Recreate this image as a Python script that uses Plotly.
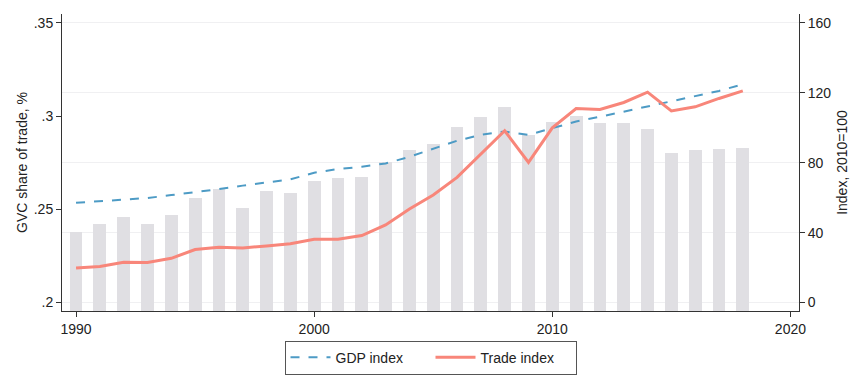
import plotly.graph_objects as go

years = list(range(1990, 2019))
gvc_share = [0.238, 0.242, 0.246, 0.242, 0.247, 0.256, 0.261, 0.2505, 0.260, 0.259,
             0.265, 0.2667, 0.2671, 0.2752, 0.282, 0.285, 0.294, 0.2996, 0.305, 0.290,
             0.297, 0.3002, 0.2964, 0.2961, 0.2932, 0.2804, 0.2818, 0.2825, 0.2829]
gdp_index = [57.1, 57.9, 58.9, 59.8, 61.5, 63.0, 64.9, 66.9, 68.8, 70.5,
             74.3, 76.4, 77.7, 79.6, 83.4, 87.8, 92.6, 96.0, 97.9, 96.0,
             100.0, 103.6, 106.3, 109.3, 112.0, 115.0, 118.1, 121.1, 124.9]
trade_index = [19.8, 20.6, 23.0, 22.9, 25.3, 30.3, 31.6, 31.2, 32.4, 33.7,
               36.2, 36.2, 38.3, 44.4, 53.5, 61.5, 71.6, 85.0, 98.3, 80.2,
               100.0, 111.0, 110.5, 114.5, 120.4, 109.7, 112.0, 116.8, 121.1]

left_ticks = [0.2, 0.25, 0.3, 0.35]
left_labels = [".2", ".25", ".3", ".35"]
right_ticks = [0, 40, 80, 120, 160]
x_ticks = [1990, 2000, 2010, 2020]

font_family = "Liberation Sans, Arial, Helvetica, sans-serif"
axis_color = "#333333"

fig = go.Figure()
fig.add_trace(go.Bar(x=years, y=gvc_share, width=0.54, marker=dict(color="#e0dfe3", line=dict(width=0)),
                     showlegend=False, yaxis="y", hoverinfo="x+y"))
fig.add_trace(go.Scatter(x=years, y=gdp_index, mode="lines", name="GDP index", yaxis="y2",
                         line=dict(color="#4d9bc5", width=2, dash="dash")))
fig.add_trace(go.Scatter(x=years, y=trade_index, mode="lines", name="Trade index", yaxis="y2",
                         line=dict(color="#f8867a", width=3)))

fig.update_layout(
    width=865, height=379,
    margin=dict(l=62, r=66, t=14, b=68, autoexpand=False),
    paper_bgcolor="white", plot_bgcolor="white",
    font=dict(family=font_family, size=14, color="#222222"),
    bargap=0,
    xaxis=dict(range=[1989.41, 2020.36], tickvals=x_ticks, ticks="outside", ticklen=5,
               tickcolor=axis_color, showline=True, linecolor=axis_color, linewidth=1,
               showgrid=False, zeroline=False, mirror=False, tickfont=dict(size=14),
               automargin=False),
    yaxis=dict(range=[0.19545, 0.35482], tickvals=left_ticks, ticktext=left_labels,
               ticks="outside", ticklen=5, tickcolor=axis_color, showline=True,
               linecolor=axis_color, linewidth=1, showgrid=False, zeroline=False,
               title=dict(text="GVC share of trade, %", font=dict(size=14), standoff=2),
               tickfont=dict(size=14), automargin=False),
    yaxis2=dict(range=[-4.857, 165.14], tickvals=right_ticks, overlaying="y", side="right",
                ticks="outside", ticklen=5, tickcolor=axis_color, showline=True,
                linecolor=axis_color, linewidth=1, showgrid=True, gridcolor="#f0f0f2",
                gridwidth=1, zeroline=False,
                title=dict(text="Index, 2010=100", font=dict(size=14), standoff=6),
                tickfont=dict(size=14), automargin=False),
    legend=dict(orientation="h", x=0.5, xanchor="center", y=-0.1, yanchor="top",
                bordercolor="#555555", borderwidth=1, bgcolor="white",
                font=dict(size=14), itemwidth=40, entrywidth=90, entrywidthmode="pixels",
                traceorder="normal"),
)

fig.write_html("out.html", config={"displayModeBar": False},
               post_script="document.body.style.margin='0';document.body.style.padding='0';")
